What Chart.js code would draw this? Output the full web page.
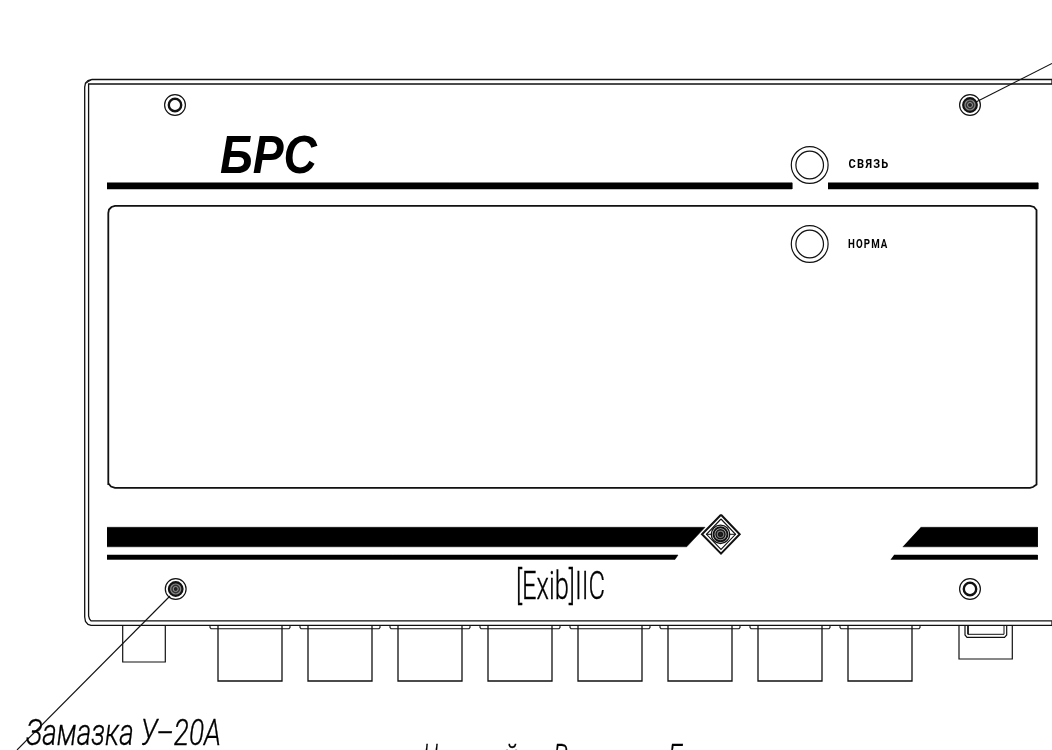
<!DOCTYPE html>
<html>
<head>
<meta charset="utf-8">
<style>
html, body { margin: 0; padding: 0; background: #fff; overflow: hidden; }
canvas { display: block; }
</style>
<script src="https://cdn.jsdelivr.net/npm/chart.js@4"></script>
</head>
<body>
<canvas id="panel" width="1052" height="750"></canvas>
<script>
// drawing outlines as [x, y]
const panelOuter = [[1052,79.5],[92,79.5],[88,80.5],[85.5,83],[84.7,87],[84.7,617],[85.5,621.5],[88,624.5],[91,625.3],[1052,625.3],[1052,620.8],[91,620.8],[89.5,619],[88.6,616],[88.6,84],[1052,84],[1052,79.5]];
const panelCorner = [[85.5,83.5],[91,80]];
const displayBox = [[115,205.8],[1030,205.8],[1034,207],[1036.5,210],[1036.8,213],[1036.8,481],[1036,484.5],[1033,487],[1030,487.8],[115,487.8],[111,486.5],[108.8,484],[108.3,481],[108.3,213],[109,209.5],[111.5,207],[115,205.8],[1030,205.8]];
const barTopLeft = [[107,182.8],[792,182.8],[792,189],[107,189]];
const barTopRight = [[828,182.8],[1038,182.8],[1038,189],[828,189]];
const bandLeft = [[107,527.3],[705,527.3],[686.7,546.8],[107,546.8]];
const bandLeftThin = [[107,555],[678,555],[675,559.4],[107,559.4]];
const bandRight = [[920.7,527.3],[1037.5,527.3],[1037.5,546.8],[902.7,546.8]];
const bandRightThin = [[894,555],[1037.5,555],[1037.5,559.4],[890.7,559.4]];
const leaderTop = [[976,102],[1052,63.5]];
const leaderBottom = [[170,596],[17,750]];
const tabLeft = [[122.7,625],[122.7,662],[165.3,662],[165.3,625]];
const tabRight = [[959,625],[959,659],[1012.3,659],[1012.3,625]];
const clipRight = [[965,625],[965,635],[967,637.3],[1004.5,637.3],[1006.7,635],[1006.7,625]];
const clipRightInner = [[968,625],[968,634.3],[1004,634.3],[1004,625]];
const diamondOuter = [[721,514.8],[739.7,534.3],[721,553.6],[702,534.3],[721,514.8]];
const diamondInner = [[721,519],[735.5,534.3],[721,549.4],[706.5,534.3],[721,519]];
const diamondBar = [[706,534.3],[736,534.3]];

// connector row along the lower edge
const connectorLeft = [218, 308, 398, 488, 578, 668, 758, 848];
const connectorWidth = 64;
const connectorBottom = 681;

// round parts [x, y]
const plainScrews = [[175,105],[970,589]];
const sealedScrews = [[970,105],[175.7,589]];
const lamps = [[809.7,165],[809.7,244]];
const emblem = [[720.5,534.3]];

const ink = '#111111';
const sansFont = 'Roboto, "Liberation Sans", sans-serif';

// text: words, left, baseline, fitted width, font, letter spacing
const labels = [
  ['БРС', 220, 173, 97, 'italic bold 53px "Liberation Sans"', '0px'],
  ['СВЯЗЬ', 848.5, 167.8, 41, 'bold 13px Roboto', '1.5px'],
  ['НОРМА', 848, 248, 40.5, 'bold 13px Roboto', '1.5px'],
  ['[Exib]IIC', 516, 599, 89, '300 38px ' + sansFont, '0px'],
  ['Замазка У–20А', 26, 745, 195, 'italic 300 37px ' + sansFont, '0px'],
  ['Н', 423, 769.6, 15, 'italic 300 37px ' + sansFont, '0px'],
  ['й', 503, 769.6, 15, 'italic 300 37px ' + sansFont, '0px'],
  ['В', 553, 769.6, 15, 'italic 300 37px ' + sansFont, '0px'],
  ['Б', 668, 769.6, 16, 'italic 300 37px ' + sansFont, '0px']
];

const xy = pts => pts.map(p => ({ x: p[0], y: p[1] }));

function line(pts, width) {
  return { data: xy(pts), showLine: true, borderColor: ink, borderWidth: width, pointRadius: 0, fill: false, tension: 0 };
}
function solid(pts) {
  return { data: xy(pts), showLine: true, borderColor: '#000', borderWidth: 0.5, backgroundColor: '#000', pointRadius: 0, fill: 'shape', tension: 0 };
}
function ring(pts, radius, width, fillColor, edge) {
  return { data: xy(pts), showLine: false, pointStyle: 'circle', pointRadius: radius, pointBorderWidth: width, pointBorderColor: edge || ink, pointBackgroundColor: fillColor || 'rgba(0,0,0,0)' };
}

// chart.js paints the first dataset last, so inner rings come first
const datasets = [
  line(panelOuter, 1.3),
  line(panelCorner, 1),
  line(displayBox, 1.8),
  solid(barTopLeft), solid(barTopRight),
  solid(bandLeft), solid(bandLeftThin), solid(bandRight), solid(bandRightThin),
  line(leaderTop, 1.1), line(leaderBottom, 1.1),
  line(tabLeft, 1.2), line(tabRight, 1.2),
  line(clipRight, 1.2), line(clipRightInner, 1),
  ring(emblem, 2, 1.2, '#222222'), ring(emblem, 4.5, 1.4, '#777777', '#111111'), ring(emblem, 7, 2, '#bbbbbb', '#111111'), ring(emblem, 9.2, 1.4, '#ffffff'),
  line(diamondBar, 1), line(diamondOuter, 2), line(diamondInner, 1.1),
  ring(plainScrews, 6.2, 2.4), ring(plainScrews, 10.4, 1.2),
  ring(sealedScrews, 2.5, 1, '#222222', '#999999'), ring(sealedScrews, 5, 1.2, '#333333', '#888888'), ring(sealedScrews, 7, 1.8, '#222222'), ring(sealedScrews, 10.4, 1.2),
  ring(lamps, 13.8, 1.2), ring(lamps, 18.4, 1.2)
];

connectorLeft.forEach(left => {
  const right = left + connectorWidth;
  datasets.push(line([[left, 625], [left, connectorBottom], [right, connectorBottom], [right, 625]], 1.3));
  datasets.push(line([[left - 8, 625], [left - 8, 627.5], [left - 7, 628.7], [right + 7, 628.7], [right + 8, 627.5], [right + 8, 625]], 1.1));
});

const textPlugin = {
  id: 'textPlugin',
  afterDraw(chart) {
    const c = chart.ctx;
    labels.forEach(([text, x, y, width, font, spacing]) => {
      c.save();
      c.font = font;
      c.letterSpacing = spacing;
      c.fillStyle = '#000';
      c.strokeStyle = '#000';
      c.lineWidth = font.includes('300') ? 0.35 : 0;
      c.textBaseline = 'alphabetic';
      c.textAlign = 'left';
      const real = c.measureText(text).width;
      c.translate(x, y);
      c.scale(width / real, 1);
      c.fillText(text, 0, 0);
      if (font.includes('300')) c.strokeText(text, 0, 0);
      c.restore();
    });
  }
};

new Chart(document.getElementById('panel').getContext('2d'), {
  type: 'scatter',
  data: { datasets },
  options: {
    responsive: false,
    animation: false,
    layout: { padding: 0, autoPadding: false },
    plugins: { legend: { display: false }, tooltip: { enabled: false }, title: { display: false } },
    scales: {
      x: { type: 'linear', min: 0, max: 1052, display: false },
      y: { type: 'linear', min: 0, max: 750, reverse: true, display: false }
    }
  },
  plugins: [textPlugin]
});
</script>
</body>
</html>
